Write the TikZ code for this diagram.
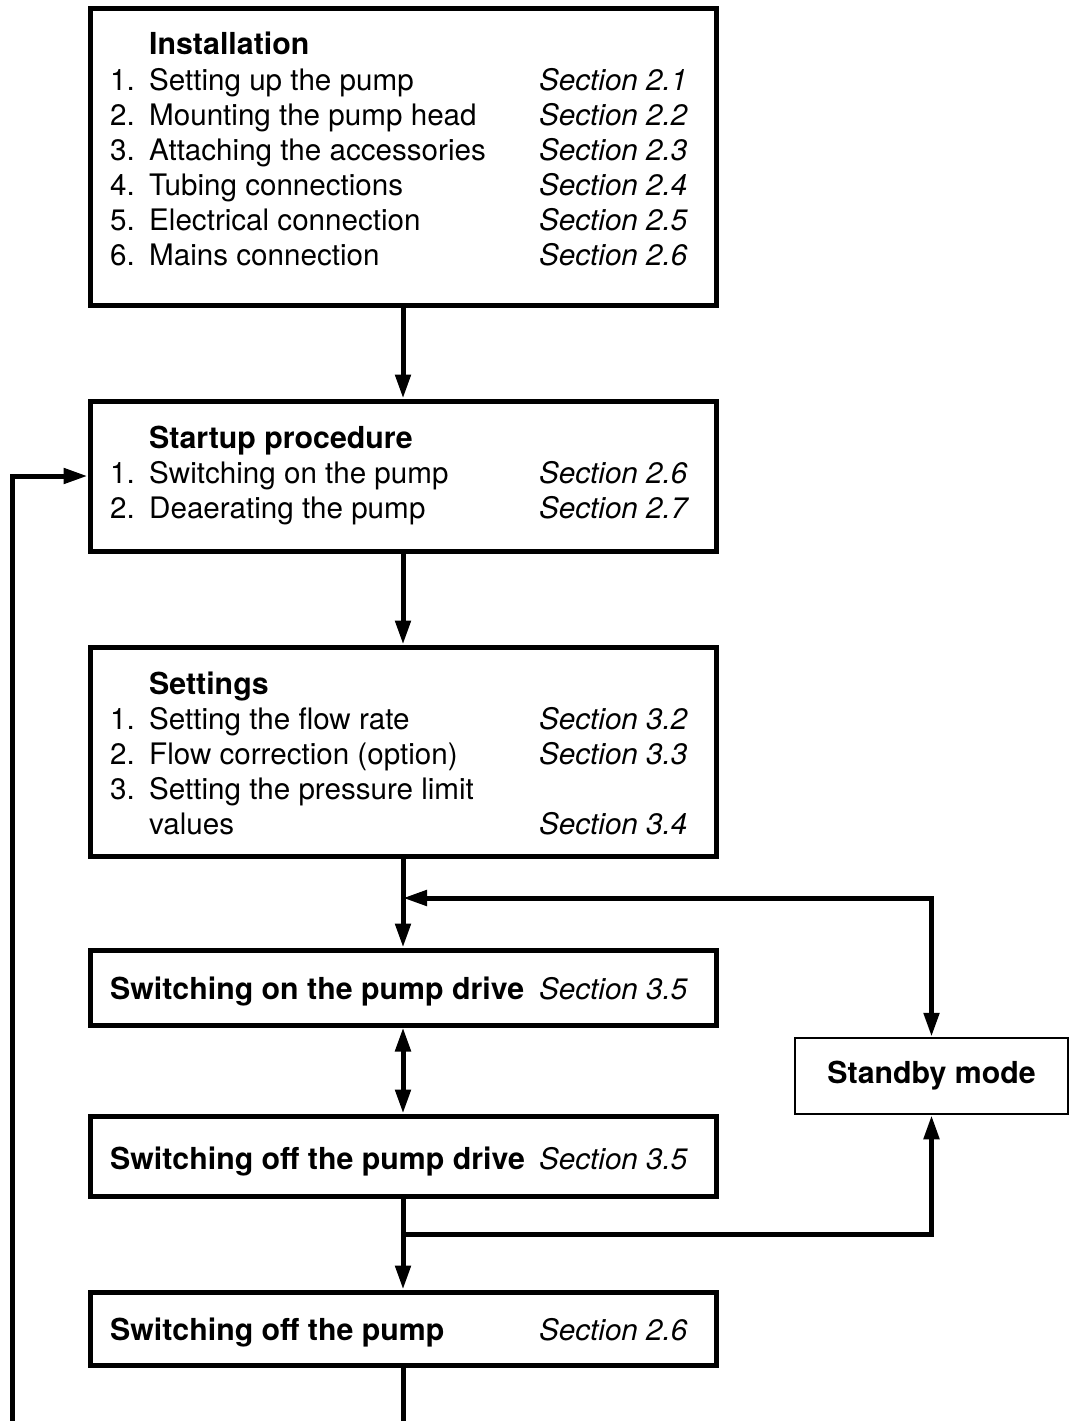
\documentclass[tikz,border=0pt]{standalone}
\usepackage{fontspec}
\setmainfont{TeX Gyre Heros}
\usetikzlibrary{arrows.meta}

\newcommand{\boxfont}{\fontsize{29.6}{35}\selectfont}
\newcommand{\boldfont}{\fontsize{30.3}{35}\selectfont\bfseries}

\tikzset{
  box/.style={draw, line width=5pt, minimum width=626pt, inner sep=0pt},
  sidebox/.style={draw, line width=2.5pt, minimum width=273pt, minimum height=76pt,
    inner sep=0pt, font=\boldfont},
  conn/.style={line width=5pt},
  tip/.tip={Triangle[length=24pt,width=15pt]},
  arr/.style={conn, -tip},
  dblarr/.style={conn, tip-tip},
  txt/.style={anchor=base west, inner sep=0pt, font=\boxfont},
  ttl/.style={txt, font=\boldfont},
  sec/.style={txt, font=\boxfont\itshape},
}

\begin{document}
\begin{tikzpicture}[x=1pt,y=-1pt]
\useasboundingbox (0,0) rectangle (1072,1421);

% Drawing box install
\node[box, minimum height=296pt] (install) at (403,157) {};
\node[ttl] (install-t) at (149,55) {Installation};
\node[txt] (install-n1) at (110,90) {1.};
\node[txt] (install-i1) at (149,90) {Setting up the pump};
\node[sec] (install-s1) at (539,90) {Section 2.1};
\node[txt] (install-n2) at (110,125) {2.};
\node[txt] (install-i2) at (149,125) {Mounting the pump head};
\node[sec] (install-s2) at (539,125) {Section 2.2};
\node[txt] (install-n3) at (110,160) {3.};
\node[txt] (install-i3) at (149,160) {Attaching the accessories};
\node[sec] (install-s3) at (539,160) {Section 2.3};
\node[txt] (install-n4) at (110,195) {4.};
\node[txt] (install-i4) at (149,195) {Tubing connections};
\node[sec] (install-s4) at (539,195) {Section 2.4};
\node[txt] (install-n5) at (110,230) {5.};
\node[txt] (install-i5) at (149,230) {Electrical connection};
\node[sec] (install-s5) at (539,230) {Section 2.5};
\node[txt] (install-n6) at (110,265) {6.};
\node[txt] (install-i6) at (149,265) {Mains connection};
\node[sec] (install-s6) at (539,265) {Section 2.6};

% Drawing box startup
\node[box, minimum height=150pt] (startup) at (403,476) {};
\node[ttl] (startup-t) at (149,448) {Startup procedure};
\node[txt] (startup-n1) at (110,483) {1.};
\node[txt] (startup-i1) at (149,483) {Switching on the pump};
\node[sec] (startup-s1) at (539,483) {Section 2.6};
\node[txt] (startup-n2) at (110,518) {2.};
\node[txt] (startup-i2) at (149,518) {Deaerating the pump};
\node[sec] (startup-s2) at (539,518) {Section 2.7};

% Drawing box settings
\node[box, minimum height=209pt] (settings) at (403,751.5) {};
\node[ttl] (settings-t) at (149,694) {Settings};
\node[txt] (settings-n1) at (110,729) {1.};
\node[txt] (settings-i1) at (149,729) {Setting the flow rate};
\node[sec] (settings-s1) at (539,729) {Section 3.2};
\node[txt] (settings-n2) at (110,764) {2.};
\node[txt] (settings-i2) at (149,764) {Flow correction (option)};
\node[sec] (settings-s2) at (539,764) {Section 3.3};
\node[txt] (settings-n3) at (110,799) {3.};
\node[txt] (settings-i3) at (149,799) {Setting the pressure limit};
\node[txt] (settings-i3b) at (149,834) {values};
\node[sec] (settings-s3) at (539,834) {Section 3.4};

% Drawing box driveon
\node[box, minimum height=75pt] (driveon) at (403,987.5) {};
\node[ttl] (driveon-t) at (110,999) {Switching on the pump drive};
\node[sec] (driveon-s) at (539,999) {Section 3.5};

% Drawing box driveoff
\node[box, minimum height=80pt] (driveoff) at (403,1156) {};
\node[ttl] (driveoff-t) at (110,1169) {Switching off the pump drive};
\node[sec] (driveoff-s) at (539,1169) {Section 3.5};

% Drawing box pumpoff
\node[box, minimum height=73pt] (pumpoff) at (403,1328.5) {};
\node[ttl] (pumpoff-t) at (110,1340) {Switching off the pump};
\node[sec] (pumpoff-s) at (539,1340) {Section 2.6};

% Drawing box standby
\node[sidebox] (standby) at (931.5,1076) {Standby mode};

% Points for the connectors
\coordinate (merge) at (403,898);
\coordinate (branch) at (403,1234);
\coordinate (bottom) at (403,1421);
\coordinate (loop) at (12,1421);

% Drawing connectors
\draw[arr] (install.south) -- (startup.north);
\draw[arr] (startup.south) -- (settings.north);
\draw[arr] (settings.south) -- (driveon.north);
\draw[dblarr] (merge) -| (standby.north);
\draw[dblarr] (driveon.south) -- (driveoff.north);
\draw[arr] (driveoff.south) -- (pumpoff.north);
\draw[arr] (branch) -| (standby.south);
\draw[conn] (pumpoff.south) -- (bottom);
\draw[arr] (loop) |- (startup.west);
\end{tikzpicture}
\end{document}
